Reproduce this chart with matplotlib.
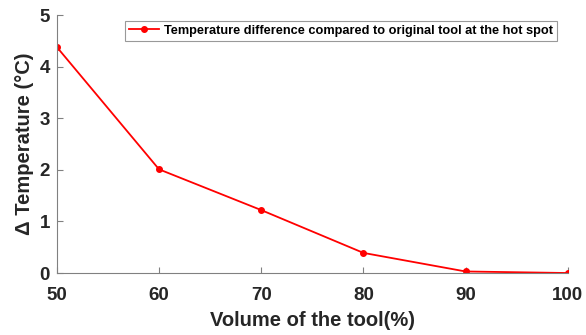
import matplotlib
matplotlib.use("Agg")
import matplotlib.pyplot as plt

# data
volume = [50, 60, 70, 80, 90, 100]
delta_temp = [4.38, 2.01, 1.22, 0.39, 0.03, 0.0]
legend_label = "Temperature difference compared to original tool at the hot spot"

plt.rcParams["font.family"] = ["Liberation Sans", "DejaVu Sans"]
plt.rcParams["font.weight"] = "bold"

fig = plt.figure(figsize=(5.86, 3.35), dpi=100)
ax = fig.add_axes([0.097, 0.185, 0.872, 0.77])

ax.plot(volume, delta_temp, color="#ff0000", marker="o", markersize=4,
        linewidth=1.3, label=legend_label)

ax.set_xlim(50, 100)
ax.set_ylim(0, 5)
ax.set_xticks([50, 60, 70, 80, 90, 100])
ax.set_yticks([0, 1, 2, 3, 4, 5])

for side in ["top", "right"]:
    ax.spines[side].set_visible(False)
for side in ["left", "bottom"]:
    ax.spines[side].set_color("#808080")
    ax.spines[side].set_linewidth(0.8)

ax.tick_params(direction="in", length=4, color="#808080", labelsize=13.5,
               labelcolor="#262626")
ax.tick_params(axis="x", pad=10)
ax.tick_params(axis="y", pad=5)
for lab in ax.get_xticklabels() + ax.get_yticklabels():
    lab.set_fontweight("bold")

ax.set_xlabel("Volume of the tool(%)", fontsize=14.5, fontweight="bold",
              color="#262626", labelpad=5)
ax.set_ylabel("Δ Temperature (°C)", fontsize=14.5, fontweight="bold",
              color="#262626", labelpad=4)

# legend box placed in figure coords
leg = ax.legend(loc="upper right", bbox_to_anchor=(0.951, 0.937),
                bbox_transform=fig.transFigure, frameon=True, fancybox=False,
                handlelength=2.4, handletextpad=0.4, borderpad=0.3,
                borderaxespad=0, prop={"weight": "bold", "size": 9.2})
leg.get_frame().set_edgecolor("#808080")
leg.get_frame().set_linewidth(0.8)

plt.savefig("out.png", dpi=100)
